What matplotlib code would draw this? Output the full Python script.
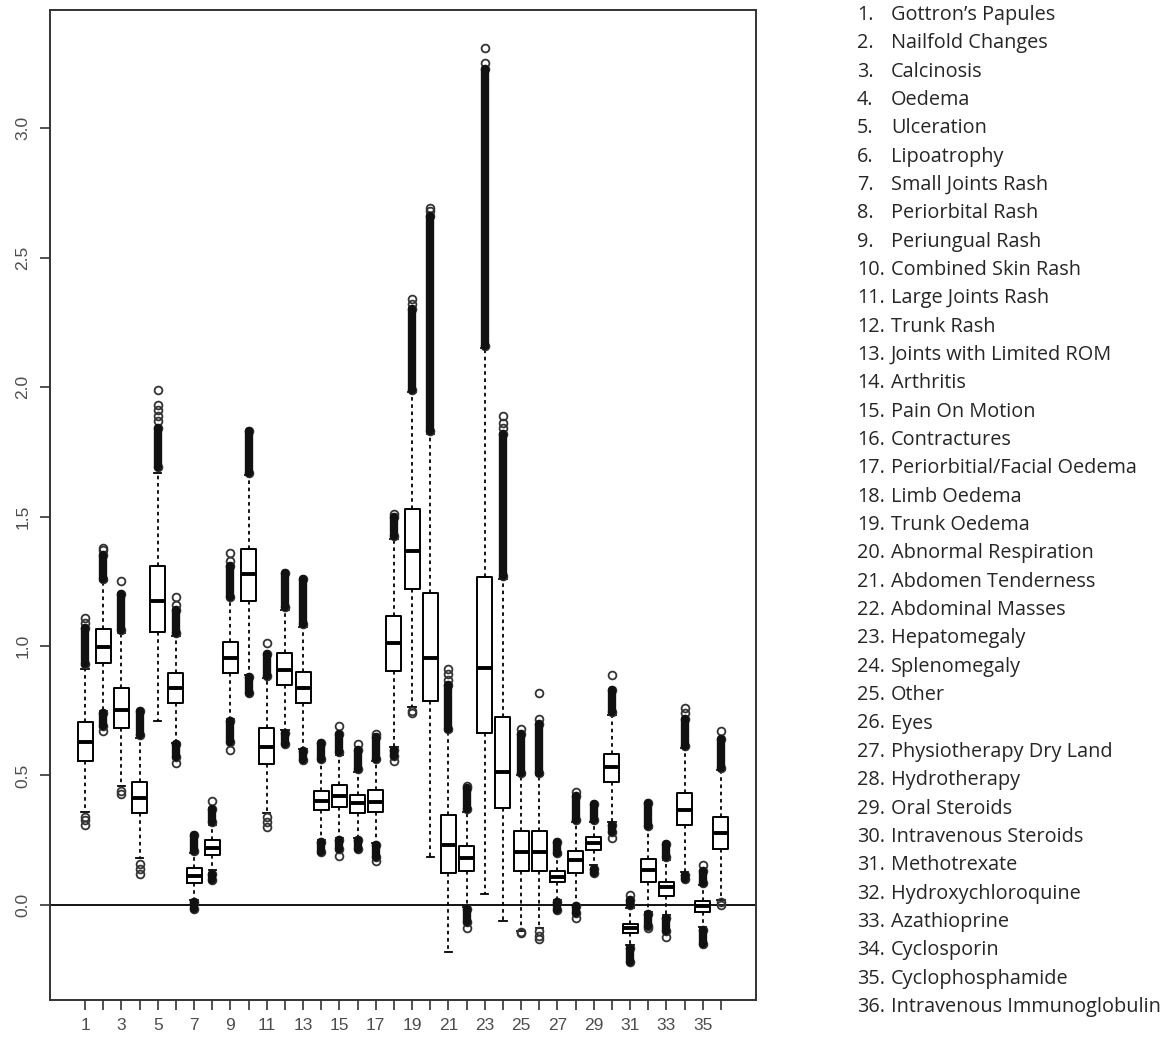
import matplotlib
matplotlib.use("Agg")
import matplotlib.pyplot as plt

# Box statistics per item: lower whisker, Q1, median, Q3, upper whisker
whislo = [0.36, 0.75, 0.46, 0.18, 0.71, 0.625, 0.02, 0.135, 0.72, 0.888,
          0.354, 0.676, 0.604, 0.251, 0.257, 0.257, 0.238, 0.611, 0.766, 0.187,
          -0.18, -0.007, 0.042, -0.061, -0.10, -0.09, 0.018, 0.0, 0.156, 0.322,
          -0.155, -0.026, -0.039, 0.129, -0.084, 0.018]
q1 = [0.557, 0.933, 0.682, 0.354, 1.055, 0.781, 0.086, 0.193, 0.894, 1.175,
      0.544, 0.849, 0.781, 0.367, 0.380, 0.354, 0.360, 0.905, 1.219, 0.788,
      0.122, 0.132, 0.663, 0.373, 0.132, 0.132, 0.090, 0.125, 0.212, 0.476,
      -0.107, 0.090, 0.035, 0.309, -0.026, 0.215]
med = [0.631, 0.998, 0.753, 0.412, 1.175, 0.837, 0.112, 0.221, 0.955, 1.278,
       0.611, 0.907, 0.837, 0.403, 0.421, 0.393, 0.399, 1.013, 1.368, 0.955,
       0.232, 0.180, 0.914, 0.515, 0.206, 0.206, 0.109, 0.174, 0.238, 0.534,
       -0.090, 0.135, 0.068, 0.367, -0.004, 0.277]
q3 = [0.708, 1.064, 0.837, 0.476, 1.309, 0.894, 0.142, 0.251, 1.017, 1.373,
      0.682, 0.972, 0.901, 0.441, 0.463, 0.425, 0.444, 1.116, 1.528, 1.203,
      0.347, 0.228, 1.265, 0.725, 0.287, 0.287, 0.132, 0.210, 0.261, 0.583,
      -0.073, 0.176, 0.090, 0.434, 0.017, 0.339]
whishi = [0.91, 1.25, 1.05, 0.645, 1.67, 1.04, 0.20, 0.31, 1.185, 1.66,
          0.875, 1.14, 1.075, 0.554, 0.579, 0.515, 0.554, 1.415, 1.98, 1.82,
          0.67, 0.36, 2.15, 1.26, 0.50, 0.50, 0.193, 0.32, 0.32, 0.734,
          -0.01, 0.296, 0.174, 0.605, 0.077, 0.521]

# Dense runs of outliers (start, end) above and below each box
band_hi = [(0.93, 1.07), (1.26, 1.35), (1.06, 1.20), (0.655, 0.75), (1.69, 1.84),
           (1.05, 1.14), (0.21, 0.27), (0.32, 0.37), (1.19, 1.31), (1.67, 1.83),
           (0.885, 0.97), (1.15, 1.28), (1.085, 1.26), (0.565, 0.625), (0.59, 0.66),
           (0.525, 0.60), (0.565, 0.65), (1.425, 1.50), (1.99, 2.30), (1.83, 2.66),
           (0.68, 0.85), (0.37, 0.45), (2.16, 3.23), (1.27, 1.82), (0.51, 0.66),
           (0.51, 0.70), (0.20, 0.245), (0.33, 0.42), (0.33, 0.39), (0.745, 0.83),
           (0.0, 0.02), (0.305, 0.395), (0.185, 0.235), (0.615, 0.72), (0.085, 0.13),
           (0.53, 0.64)]
band_lo = [None, (0.69, 0.74), None, None, None,
           (0.57, 0.62), (-0.015, 0.01), (0.095, 0.12), (0.63, 0.71), (0.82, 0.88),
           None, (0.62, 0.665), (0.56, 0.595), (0.205, 0.245), (0.215, 0.25),
           (0.215, 0.25), (0.185, 0.23), (0.575, 0.60), None, None,
           None, (-0.065, -0.015), None, None, None,
           None, (-0.02, 0.01), (-0.03, -0.005), (0.125, 0.14), (0.28, 0.31),
           (-0.22, -0.165), (-0.08, -0.035), (-0.10, -0.05), (0.10, 0.115), (-0.15, -0.095),
           None]

# Isolated outliers
singles = [[1.09, 1.11, 0.34, 0.33, 0.31], [1.37, 1.38, 0.67], [1.25, 0.44, 0.43],
           [0.16, 0.14, 0.12], [1.87, 1.89, 1.91, 1.93, 1.99], [1.16, 1.19, 0.55],
           [], [0.40], [1.33, 1.36, 0.60], [],
           [1.01, 0.34, 0.32, 0.30], [], [], [], [0.69, 0.19],
           [0.62], [0.66, 0.17], [1.51, 0.555], [2.32, 2.34, 0.75, 0.74], [2.68, 2.69],
           [0.87, 0.89, 0.91], [0.46, -0.09], [3.25, 3.31], [1.84, 1.86, 1.89], [0.68, -0.11, -0.105],
           [0.72, 0.82, -0.10, -0.12, -0.13], [], [0.437, -0.05], [], [0.888, 0.26],
           [0.039], [-0.09], [-0.122], [0.74, 0.76], [0.154],
           [0.67, 0.01, 0.0]]

names = ["Gottron\u2019s Papules", "Nailfold Changes", "Calcinosis", "Oedema",
         "Ulceration", "Lipoatrophy", "Small Joints Rash", "Periorbital Rash",
         "Periungual Rash", "Combined Skin Rash", "Large Joints Rash", "Trunk Rash",
         "Joints with Limited ROM", "Arthritis", "Pain On Motion", "Contractures",
         "Periorbitial/Facial Oedema", "Limb Oedema", "Trunk Oedema",
         "Abnormal Respiration", "Abdomen Tenderness", "Abdominal Masses",
         "Hepatomegaly", "Splenomegaly", "Other", "Eyes", "Physiotherapy Dry Land",
         "Hydrotherapy", "Oral Steroids", "Intravenous Steroids", "Methotrexate",
         "Hydroxychloroquine", "Azathioprine", "Cyclosporin", "Cyclophosphamide",
         "Intravenous Immunoglobulin"]

W, H = 1174, 1039
fig = plt.figure(figsize=(W / 100, H / 100), dpi=100)
ax = fig.add_axes([50 / W, 1 - 1000 / H, 706 / W, 990 / H])

positions = list(range(1, len(med) + 1))
stats = []
for i in range(len(med)):
    fl = list(singles[i])
    for b in (band_hi[i], band_lo[i]):
        if b is not None:
            fl.extend(b)
    stats.append(dict(whislo=whislo[i], q1=q1[i], med=med[i], q3=q3[i],
                      whishi=whishi[i], fliers=fl))

ax.bxp(stats, positions=positions, widths=0.82, capwidths=0.4,
       boxprops=dict(color="black", linewidth=1.4),
       medianprops=dict(color="black", linewidth=2.8, solid_capstyle="butt"),
       whiskerprops=dict(color="black", linewidth=1.3, linestyle=(0, (2, 2))),
       capprops=dict(color="black", linewidth=1.3),
       flierprops=dict(marker="o", markersize=5.6, markerfacecolor="none",
                       markeredgecolor="#333333", markeredgewidth=1.3))

# dense outlier runs drawn as solid columns
for i, x in enumerate(positions):
    for b in (band_hi[i], band_lo[i]):
        if b is not None and b[1] > b[0]:
            ax.vlines(x, b[0], b[1], color="#111111", linewidth=6.0,
                      capstyle="round")

ax.axhline(0, color="black", linewidth=1.3, zorder=1)

ax.set_xlim(-0.93, 37.93)
ax.set_ylim(-0.367, 3.456)
ax.set_xticks(positions)
ax.set_xticklabels([str(p) if p % 2 == 1 else "" for p in positions])
ax.set_yticks([0.0, 0.5, 1.0, 1.5, 2.0, 2.5, 3.0])
ax.set_yticklabels(["0.0", "0.5", "1.0", "1.5", "2.0", "2.5", "3.0"],
                   rotation=90, va="center")
ax.tick_params(axis="both", length=7, width=1.2, color="#333333",
               labelcolor="#4d4d4d", labelsize=12.5)
ax.tick_params(axis="x", pad=6)
ax.tick_params(axis="y", pad=7)
for tl in ax.get_xticklabels() + ax.get_yticklabels():
    tl.set_family("Liberation Sans")
for s in ax.spines.values():
    s.set_linewidth(1.4)
    s.set_color("#333333")

# numbered key on the right
for i, name in enumerate(names):
    y = 1 - (15 + 28.34 * i) / H
    fig.text(857 / W, y, f"{i + 1}.", fontsize=14.3, family="Open Sans",
             color="#262626", va="center", ha="left")
    fig.text(891 / W, y, name, fontsize=14.3, family="Open Sans",
             color="#262626", va="center", ha="left")

fig.savefig("out.png", dpi=100)
